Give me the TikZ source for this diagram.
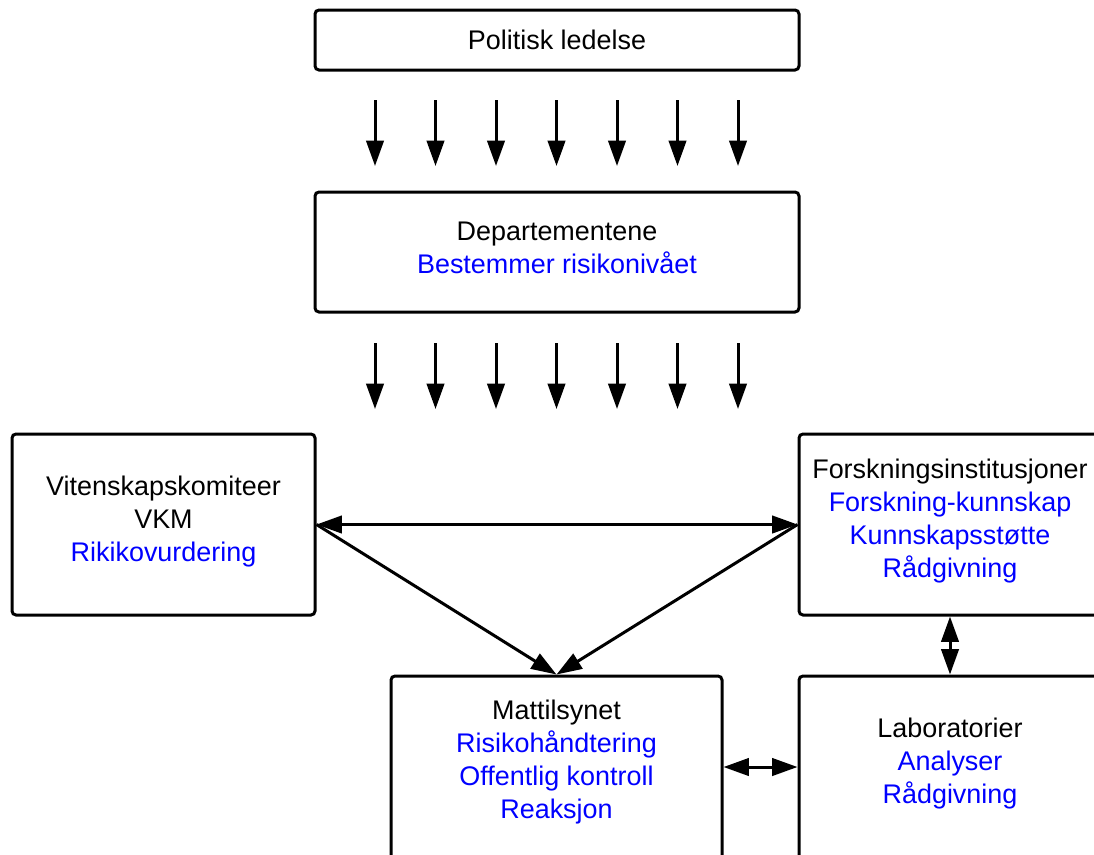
\documentclass[tikz,border=0pt]{standalone}
\usepackage{fontspec}
\setmainfont{Liberation Sans}
\usetikzlibrary{arrows.meta,calc}
\definecolor{txtblue}{RGB}{0,0,255}
\begin{document}
\begin{tikzpicture}[x=0.75pt,y=-0.75pt,
  box/.style={draw, line width=2.25pt, rounded corners=3pt, align=center, inner sep=0pt,
    font=\fontsize{20.2}{24.75}\selectfont},
  lbl/.style={align=center, inner sep=0pt, font=\fontsize{20.2}{24.75}\selectfont},
  arr/.style={line width=2.25pt, -{Triangle[length=19pt,width=13pt]}},
  darr/.style={line width=2.25pt, {Triangle[length=19pt,width=13pt]}-{Triangle[length=19pt,width=13pt]}}]
\useasboundingbox (0,0) rectangle (1094,854);
\clip (0,0) rectangle (1094,854);

\node[box, minimum width=363pt, minimum height=45pt] (pol) at (557,40) {Politisk ledelse};
\node[box, minimum width=363pt, minimum height=90pt] (dep) at (557,252) {};
\node[lbl] (dept) at (557,248)
  {Departementene\\\textcolor{txtblue}{Bestemmer risikonivået}};
\node[box, minimum width=227.25pt, minimum height=135.75pt] (vkm) at (163.5,524.5) {};
\node[lbl] (vkmt) at (163.5,521.5)
  {Vitenskapskomiteer\\VKM\\\textcolor{txtblue}{Rikikovurdering}};
\node[box, minimum width=226.5pt, minimum height=135.75pt] (fors) at (950,524.5) {};
\node[lbl] (forst) at (950,521.5)
  {Forskningsinstitusjoner\\\textcolor{txtblue}{Forskning-kunnskap}\\\textcolor{txtblue}{Kunnskapsstøtte}\\\textcolor{txtblue}{Rådgivning}};
\node[box, minimum width=248.25pt, minimum height=153pt] (matt) at (556.5,778) {};
\node[lbl] (mattt) at (556.5,762.5)
  {Mattilsynet\\\textcolor{txtblue}{Risikohåndtering}\\\textcolor{txtblue}{Offentlig kontroll}\\\textcolor{txtblue}{Reaksjon}};
\node[box, minimum width=226.5pt, minimum height=153pt] (lab) at (950,778) {};
\node[lbl] (labt) at (950,764)
  {Laboratorier\\\textcolor{txtblue}{Analyser}\\\textcolor{txtblue}{Rådgivning}};

\foreach \i in {1,...,7} {
  \coordinate (pa\i) at ({556.5+(\i-4)*60.5},100);
  \coordinate (pb\i) at ({556.5+(\i-4)*60.5},166);
  \draw[arr] (pa\i) -- (pb\i);
  \coordinate (da\i) at ({556.5+(\i-4)*60.5},343);
  \coordinate (db\i) at ({556.5+(\i-4)*60.5},409);
  \draw[arr] (da\i) -- (db\i);
}

\draw[darr] (vkm.east) -- (fors.west);
\draw[arr] (vkm.east) -- (matt.north);
\draw[arr] (fors.west) -- (matt.north);
\draw[darr] (fors.south) -- (lab.north);
\draw[darr] (matt.east |- 0,767) -- (lab.west |- 0,767);
\end{tikzpicture}
\end{document}
